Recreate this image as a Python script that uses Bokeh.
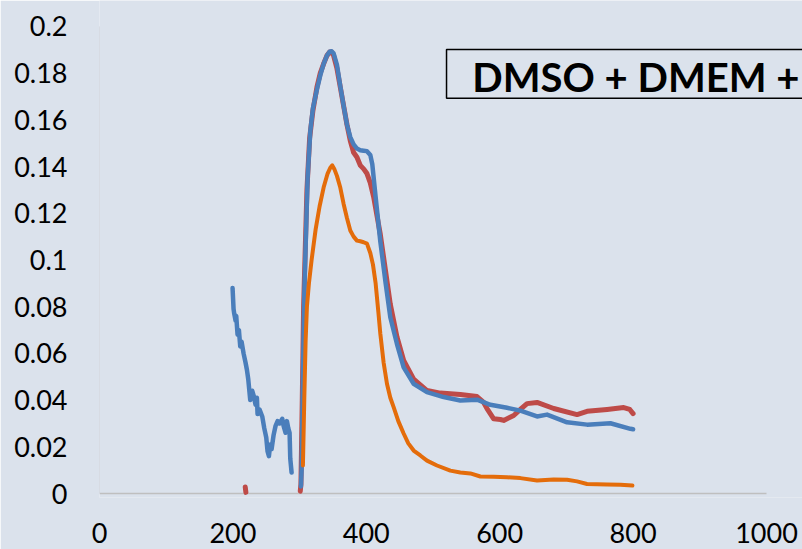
from bokeh.plotting import figure
from bokeh.models import Range1d, FixedTicker, BoxAnnotation, Label
from bokeh.embed import file_html
from bokeh.resources import INLINE

nan = float("nan")

# Series 1 (blue)
blue_x = [199.5, 201, 202, 204, 205, 207, 209, 211, 213, 216, 219, 221, 223, 226, 229, 231, 234, 236, 237,
          240, 244, 247, 250, 252, 254, 256, 258, 261, 264, 267, 270, 274, 276, 279, 281, 283, 285, 286, 288,
          295,
          302, 303, 305, 307, 309, 312, 316, 320, 326, 331, 336, 341, 345, 348, 351, 356, 361, 366, 371, 376,
          381, 386, 391, 396, 401, 406, 409, 414, 421, 429, 436, 446, 456, 471, 491, 516, 541, 566, 586, 611,
          631, 656, 671, 701, 731, 766, 796, 800]
blue_y = [0.088, 0.079, 0.077, 0.074, 0.076, 0.068, 0.070, 0.063, 0.065, 0.060, 0.056, 0.053, 0.049, 0.040, 0.044,
          0.042, 0.038, 0.041, 0.034, 0.036, 0.033, 0.028, 0.024, 0.018, 0.016, 0.021, 0.019, 0.025, 0.029, 0.031,
          0.030, 0.032, 0.029, 0.026, 0.031, 0.028, 0.026, 0.015, 0.009,
          nan,
          0.003, 0.010, 0.050, 0.085, 0.105, 0.135, 0.155, 0.165, 0.173, 0.179, 0.184, 0.1875, 0.1892, 0.1894,
          0.1885, 0.1835, 0.1745, 0.166, 0.158, 0.1526, 0.1495, 0.1477, 0.147, 0.1468, 0.1466, 0.145, 0.141,
          0.127, 0.108, 0.090, 0.0755, 0.064, 0.054, 0.047, 0.0434, 0.0413, 0.0398, 0.0402, 0.038, 0.0367,
          0.0355, 0.033, 0.0338, 0.0305, 0.0295, 0.0301, 0.0277, 0.0275]

# Series 2 (red)
red_x = [218.5, 219.5, 260,
         301, 302, 304, 306, 308, 311, 315, 320, 326, 331, 336, 341, 345, 348, 351, 356, 361, 366, 371, 376,
         381, 386, 391, 396, 401, 406, 411, 416, 421, 429, 436, 446, 456, 471, 491, 511, 541, 566, 576, 581,
         591, 601, 606, 621, 631, 641, 656, 681, 716, 731, 761, 786, 795, 800]
red_y = [0.0028, 0.0005, nan,
         0.001, 0.004, 0.040, 0.080, 0.100, 0.130, 0.152, 0.164, 0.174, 0.180, 0.184, 0.1875, 0.189, 0.189,
         0.1875, 0.182, 0.174, 0.166, 0.158, 0.151, 0.146, 0.144, 0.1405, 0.139, 0.137, 0.133, 0.127, 0.119,
         0.111, 0.095, 0.081, 0.067, 0.057, 0.049, 0.0441, 0.043, 0.0424, 0.0415, 0.039, 0.0364, 0.032,
         0.0317, 0.0313, 0.0334, 0.036, 0.0385, 0.039, 0.0364, 0.0338, 0.0352, 0.036, 0.0368, 0.036, 0.0342]

# Series 3 (orange)
orange_x = [305, 307, 309, 311, 314, 318, 324, 330, 336, 342, 346, 349, 352, 356, 361, 366, 371, 376, 381,
            386, 391, 396, 401, 406, 410, 414, 418, 421, 426, 431, 436, 441, 448, 456, 463, 471, 481, 491,
            506, 526, 541, 556, 571, 591, 611, 631, 656, 681, 701, 716, 731, 746, 761, 781, 799]
orange_y = [0.012, 0.040, 0.065, 0.080, 0.090, 0.100, 0.113, 0.123, 0.131, 0.137, 0.1395, 0.1405, 0.139,
            0.136, 0.131, 0.124, 0.118, 0.1126, 0.110, 0.1083, 0.108, 0.1076, 0.107, 0.103, 0.098, 0.090,
            0.078, 0.0685, 0.056, 0.047, 0.041, 0.037, 0.031, 0.0257, 0.0215, 0.0184, 0.0163, 0.0141, 0.012,
            0.0098, 0.009, 0.0086, 0.0073, 0.0072, 0.007, 0.0066, 0.0056, 0.006, 0.0059, 0.0052, 0.0041,
            0.0040, 0.0039, 0.0038, 0.0034]

x_ticks = [0, 200, 400, 600, 800, 1000]
y_ticks = [0, 0.02, 0.04, 0.06, 0.08, 0.1, 0.12, 0.14, 0.16, 0.18, 0.2]
y_tick_labels = ["0", "0.02", "0.04", "0.06", "0.08", "0.1", "0.12", "0.14", "0.16", "0.18", "0.2"]
title_text = "DMSO + DMEM +"

BG = "#dbe2ec"
FONT = "Lato"

p = figure(width=802, height=549, output_backend="svg", toolbar_location=None,
           x_range=Range1d(0, 1054), y_range=Range1d(-0.0017, 0.2111),
           min_border_left=99, min_border_right=0, min_border_top=0, min_border_bottom=52)
p.background_fill_color = BG
p.border_fill_color = BG
p.outline_line_color = None
p.xgrid.visible = False
p.ygrid.visible = False

for ax in (p.xaxis[0], p.yaxis[0]):
    ax.axis_line_color = None
    ax.major_tick_line_color = None
    ax.minor_tick_line_color = None
    ax.major_tick_in = 0
    ax.major_tick_out = 0
    ax.minor_tick_in = 0
    ax.minor_tick_out = 0
    ax.major_label_text_font = FONT
    ax.major_label_text_font_size = "27px"
    ax.major_label_text_color = "#000000"

p.xaxis.ticker = FixedTicker(ticks=x_ticks)
p.xaxis.major_label_standoff = 25
p.yaxis.ticker = FixedTicker(ticks=y_ticks)
p.yaxis.major_label_overrides = {t: l for t, l in zip(y_ticks, y_tick_labels)}
p.yaxis.major_label_standoff = 32

# axis lines
p.segment(x0=[0], y0=[0], x1=[1000], y1=[0], line_color="#bfbfbf", line_width=1.5)
p.segment(x0=[0], y0=[0], x1=[0], y1=[0.2], line_color="#c9ced6", line_width=1)

p.line(red_x, red_y, line_color="#be4b48", line_width=5, line_join="round", line_cap="round")
p.line(blue_x, blue_y, line_color="#4a7ebb", line_width=4.5, line_join="round", line_cap="round")
p.line(orange_x, orange_y, line_color="#e46c0a", line_width=4, line_join="round", line_cap="round")

box = BoxAnnotation(left=520.3, right=1200, top=0.1901, bottom=0.1692,
                    fill_color=BG, fill_alpha=1.0, line_color="black", line_alpha=1.0, line_width=1.5)
p.add_layout(box)
lab = Label(x=559, y=0.1785, text=title_text, text_font=FONT, text_font_style="bold",
            text_font_size="40px", text_baseline="alphabetic", text_color="black")
p.add_layout(lab)

open("out.html", "w").write(file_html(p, INLINE))
